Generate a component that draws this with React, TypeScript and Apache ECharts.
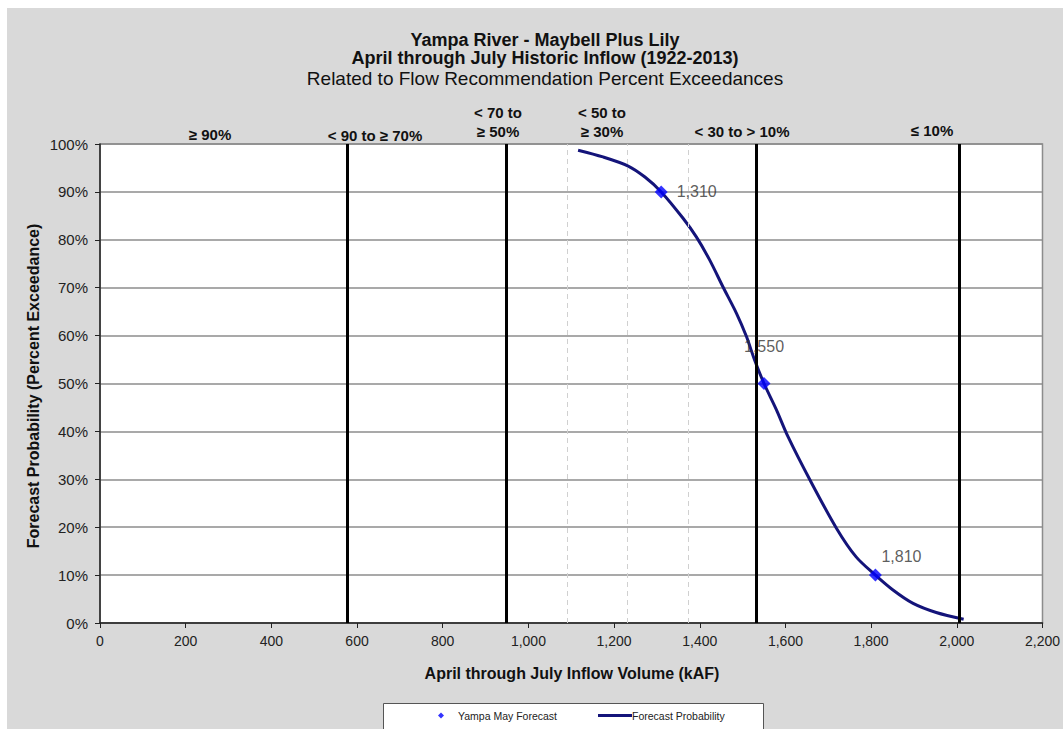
import React, { useEffect, useRef } from "react";
import * as echarts from "echarts";

const curveX = [1116, 1174, 1233, 1272, 1310, 1361, 1392, 1423, 1454, 1486, 1509, 1528, 1550, 1579, 1606, 1657, 1719, 1765, 1810, 1851, 1898, 1952, 2016];
const curveY = [98.7, 97.3, 95.4, 93.1, 90, 84.5, 80.6, 75.8, 70.2, 64.6, 59.8, 54.9, 50, 44.5, 38.9, 29.9, 19.8, 13.8, 10, 6.9, 4.1, 2.2, 0.8];
const forecastX = [1310, 1550, 1810];
const forecastY = [90, 50, 10];
const solidThresholds = [577, 949, 1533, 2005];
const dashedThresholds = [1091, 1230, 1372];
const xTicks = [0, 200, 400, 600, 800, 1000, 1200, 1400, 1600, 1800, 2000, 2200];
const yTicks = [0, 10, 20, 30, 40, 50, 60, 70, 80, 90, 100];
const bandLabels = [
  { lines: ["≥ 90%"], x: 210, y: 134 },
  { lines: ["< 90 to ≥ 70%"], x: 375, y: 135 },
  { lines: ["< 70 to", "≥ 50%"], x: 498, y: 122 },
  { lines: ["< 50 to", "≥ 30%"], x: 602, y: 122 },
  { lines: ["< 30 to > 10%"], x: 742, y: 131 },
  { lines: ["≤ 10%"], x: 932, y: 130 },
];
const titles = [
  { text: "Yampa River - Maybell Plus Lily", bold: true, size: 18, y: 40 },
  { text: "April through July Historic Inflow (1922-2013)", bold: true, size: 18, y: 58 },
  { text: "Related to Flow Recommendation Percent Exceedances", bold: false, size: 19, y: 78 },
];

const FONT = "Liberation Sans, Arial, sans-serif";

export default function App() {
  const ref = useRef<HTMLDivElement>(null);
  useEffect(() => {
    document.body.style.margin = "0";
    const chart = echarts.init(ref.current!, null, { renderer: "svg" });
    const fmt = (v: number) => v.toLocaleString("en-US");
    const graphics: any[] = [
      { type: "rect", z: -10, silent: true, shape: { x: 7, y: 8, width: 1063, height: 729 }, style: { fill: "#d9d9d9" } },
      { type: "rect", z: -5, silent: true, shape: { x: 383.5, y: 703.5, width: 380, height: 40 }, style: { fill: "#fff", stroke: "#555", lineWidth: 1 } },
    ];
    titles.forEach((t) =>
      graphics.push({
        type: "text", x: 545, y: t.y,
        style: { text: t.text, fill: "#111", font: `${t.bold ? "bold " : ""}${t.size}px ${FONT}`, textAlign: "center", textVerticalAlign: "middle" },
      })
    );
    bandLabels.forEach((b) =>
      graphics.push({
        type: "text", x: b.x, y: b.y,
        style: { text: b.lines.join("\n"), fill: "#111", font: `bold 15px ${FONT}`, textAlign: "center", textVerticalAlign: "middle", lineHeight: 19 },
      })
    );
    graphics.push({
      type: "text", x: 572, y: 673,
      style: { text: "April through July Inflow Volume (kAF)", fill: "#111", font: `bold 16px ${FONT}`, textAlign: "center", textVerticalAlign: "middle" },
    });
    graphics.push({
      type: "text", x: 33, y: 386, rotation: Math.PI / 2,
      style: { text: "Forecast Probability (Percent Exceedance)", fill: "#111", font: `bold 16px ${FONT}`, textAlign: "center", textVerticalAlign: "middle" },
    });

    const curve = curveX.map((x, i) => [x, curveY[i]]);
    const pts = forecastX.map((x, i) => [x, forecastY[i]]);
    const labelPos: any[] = [
      { position: "right", offset: [4, 0] },
      { position: "top", offset: [0, -18] },
      { position: "top", offset: [26, 1] },
    ];
    chart.setOption({
      animation: false,
      textStyle: { fontFamily: FONT },
      graphic: graphics,
      grid: { left: 100, top: 144, right: 20, bottom: 106, show: true, backgroundColor: "#fff", borderColor: "#8c8c8c", borderWidth: 1.5 },
      legend: [
        {
          left: 438, top: 710, padding: 0, itemWidth: 6, itemHeight: 6, itemGap: 0,
          textStyle: { fontSize: 10.5, color: "#222", fontFamily: FONT, padding: [0, 0, 0, 9] },
          data: [{ name: "Yampa May Forecast", icon: "diamond", itemStyle: { color: "#0000ff" } }],
        },
        {
          left: 598, top: 710, padding: 0, itemWidth: 34, itemHeight: 3, itemGap: 0,
          textStyle: { fontSize: 10.5, color: "#222", fontFamily: FONT, padding: [0, 0, 0, -5] },
          data: [{ name: "Forecast Probability", icon: "rect", itemStyle: { color: "#14147a" } }],
        },
      ],
      xAxis: {
        type: "value", min: 0, max: 2200, interval: 200,
        axisLine: { lineStyle: { color: "#222", width: 1.5 } },
        axisTick: { show: true, length: 5, lineStyle: { color: "#222" } },
        axisLabel: { color: "#222", fontSize: 14, margin: 11, formatter: (v: number) => (xTicks.includes(v) ? fmt(v) : "") },
        splitLine: { show: false },
      },
      yAxis: {
        type: "value", min: 0, max: 100, interval: 10,
        axisLine: { show: true, lineStyle: { color: "#222", width: 1.5 } },
        axisTick: { show: true, length: 5, lineStyle: { color: "#222" } },
        axisLabel: { color: "#222", fontSize: 15, margin: 12, formatter: (v: number) => (yTicks.includes(v) ? v + "%" : "") },
        splitLine: { show: true, lineStyle: { color: "#8c8c8c", width: 1.5 } },
      },
      series: [
        {
          name: "Forecast Probability",
          type: "line", data: curve, smooth: 0.3, showSymbol: false, symbol: "none",
          lineStyle: { color: "#14147a", width: 3 }, itemStyle: { color: "#14147a" },
          z: 3,
          markLine: {
            silent: true, symbol: "none", label: { show: false },
            data: [
              ...solidThresholds.map((v) => ({ xAxis: v, lineStyle: { color: "#000", width: 3, type: "solid" } })),
              ...dashedThresholds.map((v) => ({ xAxis: v, lineStyle: { color: "#d0d0d0", width: 1, type: [5, 4] } })),
            ],
          },
        },
        {
          name: "Yampa May Forecast",
          type: "scatter", data: pts.map((p, i) => ({ value: p, label: { show: true, ...labelPos[i] } })),
          symbol: "diamond", symbolSize: 13, itemStyle: { color: "#0000ff" }, z: 5,
          label: { show: true, formatter: (p: any) => fmt(p.value[0]), color: "#333", fontSize: 16, fontFamily: FONT },
        },
      ],
    });
    return () => chart.dispose();
  }, []);
  return <div ref={ref} style={{ width: 1063, height: 729, background: "#fff" }} />;
}
